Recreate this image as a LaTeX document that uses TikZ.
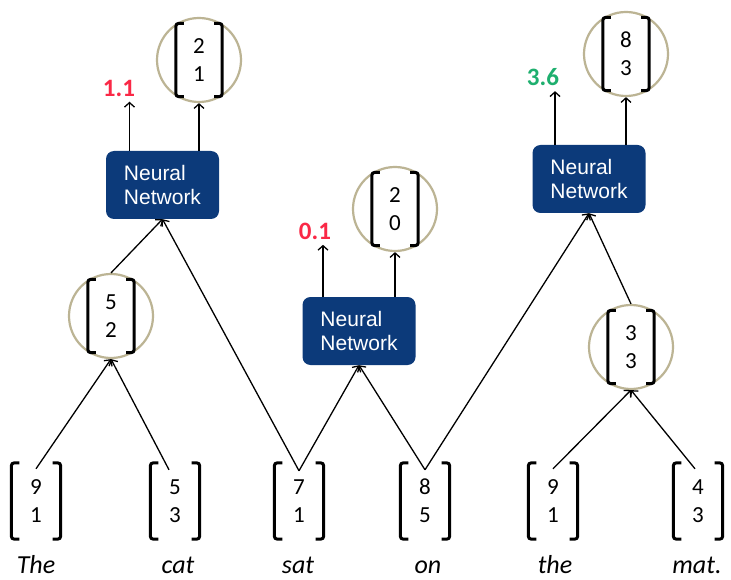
\documentclass[tikz,border=0pt]{standalone}
\usepackage{fontspec}
\setmainfont{Carlito}
\newfontfamily\arialf{Liberation Sans}
\usetikzlibrary{arrows.meta}
\definecolor{nnblue}{RGB}{12,58,122}
\definecolor{ringc}{RGB}{188,180,148}
\definecolor{scorered}{RGB}{250,40,70}
\definecolor{scoregreen}{RGB}{30,175,110}
\tikzset{
  arr/.style={line width=1.3pt, -{Straight Barb[length=4.5pt,width=10pt]}},
  nnbox/.style={fill=nnblue, rounded corners=8pt, minimum width=113pt, minimum height=68pt,
    text=white, font=\arialf\fontsize{21}{24}\selectfont, align=left, inner sep=0pt},
  ring/.style={circle, draw=ringc, line width=2.2pt, minimum size=84pt, inner sep=0pt, fill=white},
  vecn/.style={inner sep=0pt, minimum width=46pt, minimum height=73pt, align=center,
    font=\fontsize{23}{28}\selectfont},
  bvecn/.style={vecn, minimum width=49pt, minimum height=76pt},
  brk/.style={line width=3pt, rounded corners=3pt},
  word/.style={font=\itshape\fontsize{26}{30}\selectfont, anchor=base},
  score/.style={font=\bfseries\fontsize{25}{28}\selectfont},
}
\newcommand\mybrackets[1]{%
  \draw[brk] ([xshift=8pt]#1.north west) -- (#1.north west) -- (#1.south west) -- ([xshift=8pt]#1.south west);
  \draw[brk] ([xshift=-8pt]#1.north east) -- (#1.north east) -- (#1.south east) -- ([xshift=-8pt]#1.south east);}
\begin{document}
\begin{tikzpicture}[x=1pt,y=-1pt]
\useasboundingbox[fill=white] (0,0) rectangle (731,580);
% neural network boxes
\node[nnbox] (nn1) at (162.5,185) {Neural\\Network};
\node[nnbox] (nn2) at (359,331) {Neural\\Network};
\node[nnbox] (nn3) at (589,179) {Neural\\Network};
% rings
\node[ring] (c2) at (199,60) {};
\node[ring] (c1) at (111,316) {};
\node[ring] (c3) at (395,209) {};
\node[ring] (c4) at (626,54) {};
\node[ring] (c5) at (631,347) {};
% ring vectors
\node[vecn] (v2) at (c2) {2\\1}; \mybrackets{v2}
\node[vecn] (v1) at (c1) {5\\2}; \mybrackets{v1}
\node[vecn] (v3) at (c3) {2\\0}; \mybrackets{v3}
\node[vecn] (v4) at (c4) {8\\3}; \mybrackets{v4}
\node[vecn] (v5) at (c5) {3\\3}; \mybrackets{v5}
% scores
\node[score, text=scorered] (s1) at (119,88) {1.1};
\node[score, text=scorered] (s2) at (315,231) {0.1};
\node[score, text=scoregreen] (s3) at (543,77) {3.6};
% bottom vectors
\node[bvecn] (b1) at (36,501) {9\\1}; \mybrackets{b1}
\node[bvecn] (b2) at (175,501) {5\\3}; \mybrackets{b2}
\node[bvecn] (b3) at (299,501) {7\\1}; \mybrackets{b3}
\node[bvecn] (b4) at (425,501) {8\\5}; \mybrackets{b4}
\node[bvecn] (b5) at (553,501) {9\\1}; \mybrackets{b5}
\node[bvecn] (b6) at (698,501) {4\\3}; \mybrackets{b6}
% words
\node[word] (w1) at (36,573) {The};
\node[word] (w2) at (178,573) {cat};
\node[word] (w3) at (298,573) {sat};
\node[word] (w4) at (428,573) {on};
\node[word] (w5) at (555,573) {the};
\node[word] (w6) at (697,573) {mat.};
% connectors
\draw[arr] ([yshift=-6pt]b1.north) -- (c1.south);
\draw[arr] ([xshift=-6pt,yshift=-7pt]b2.north) -- (c1.south);
\draw[arr] (c1.north) -- (nn1.south);
\draw[arr] ([yshift=-8pt]b3.north) -- (nn1.south);
\draw[arr] ([yshift=-8pt]b3.north) -- (nn2.south);
\draw[arr] ([yshift=-7pt]b4.north) -- (nn2.south);
\draw[arr] ([yshift=-7pt]b4.north) -- (nn3.south);
\draw[arr] ([yshift=-6pt]b5.north) -- (c5.south);
\draw[arr] ([xshift=-3pt,yshift=-6pt]b6.north) -- (c5.south);
\draw[arr] (c5.north) -- (nn3.south);
% outputs
\draw[arr] ([xshift=-33pt]nn1.north) -- ([xshift=-33pt,yshift=-2pt]nn1.north |- s1.south);
\draw[arr] (nn1.north -| c2.south) -- (c2.south);
\draw[arr] ([xshift=-36pt]nn2.north) -- ([xshift=-36pt,yshift=-2pt]nn2.north |- s2.south);
\draw[arr] (nn2.north -| c3.south) -- (c3.south);
\draw[arr] ([xshift=-34pt]nn3.north) -- ([xshift=-34pt,yshift=-2pt]nn3.north |- s3.south);
\draw[arr] (nn3.north -| c4.south) -- (c4.south);
\end{tikzpicture}
\end{document}
